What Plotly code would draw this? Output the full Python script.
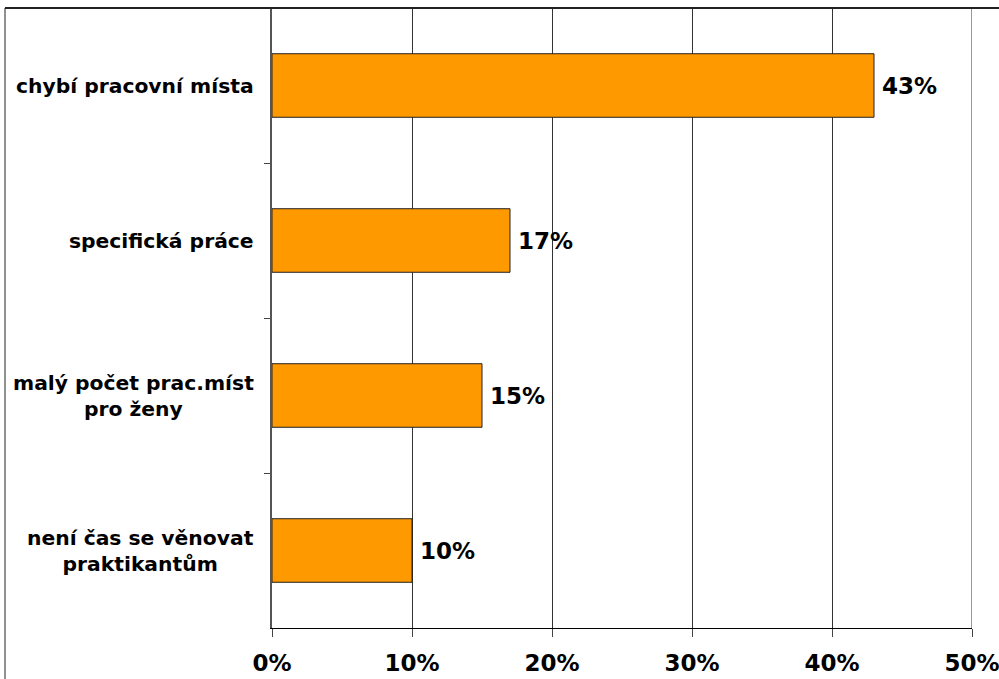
import plotly.graph_objects as go

categories = [
    "chybí pracovní místa",
    "specifická práce",
    "malý počet prac.míst<br>pro ženy",
    "není čas se věnovat<br>praktikantům",
]
values = [43, 17, 15, 10]
tick_vals = [0, 10, 20, 30, 40, 50]
tick_text = ["0%", "10%", "20%", "30%", "40%", "50%"]

FONT = "DejaVu Sans"

W, H = 999, 679
L, R, T, B = 272, 27, 8, 51
pw = W - L - R
ph = H - T - B

fig = go.Figure(
    go.Bar(
        y=categories,
        x=values,
        orientation="h",
        width=0.41,
        marker=dict(color="#FF9900", line=dict(color="#222222", width=1)),
        hoverinfo="skip",
    )
)

annotations = []
for c, v in zip(categories, values):
    annotations.append(dict(
        x=v, y=c, xref="x", yref="y", text=f"{v}%", showarrow=False,
        xanchor="left", yanchor="middle", xshift=6,
        font=dict(family=FONT, size=23, color="black", weight="bold"),
    ))
    annotations.append(dict(
        x=-16 / pw, y=c, xref="paper", yref="y", text=c, showarrow=False,
        xanchor="right", yanchor="middle", align="center",
        font=dict(family=FONT, size=20.3, color="black", weight="bold"),
    ))

fig.update_layout(
    width=W,
    height=H,
    margin=dict(l=L, r=R, t=T, b=B, pad=0, autoexpand=False),
    paper_bgcolor="white",
    plot_bgcolor="white",
    showlegend=False,
    font=dict(family=FONT, color="black"),
    xaxis=dict(
        range=[0, 50],
        tickvals=tick_vals,
        ticktext=tick_text,
        tickfont=dict(family=FONT, size=23, color="black", weight="bold"),
        ticklabeloverflow="allow",
        automargin=False,
        showgrid=True,
        gridcolor="#333333",
        gridwidth=1,
        showline=True,
        linecolor="black",
        linewidth=1,
        ticks="outside",
        ticklen=8,
        tickcolor="#444444",
        ticklabelstandoff=6,
        zeroline=False,
        fixedrange=True,
    ),
    yaxis=dict(
        autorange="reversed",
        automargin=False,
        tickson="boundaries",
        ticks="outside",
        ticklen=6,
        tickcolor="#444444",
        showline=True,
        linecolor="#555555",
        linewidth=2,
        showgrid=False,
        showticklabels=False,
        fixedrange=True,
    ),
    annotations=annotations,
    shapes=[
        dict(type="line", xref="x", yref="paper",
             x0=tick_vals[-1], x1=tick_vals[-1], y0=0, y1=1,
             line=dict(color="#333333", width=1)),
        dict(type="line", xref="paper", yref="paper",
             x0=(5 - L) / pw, x1=(W + 10 - L) / pw, y0=1, y1=1,
             line=dict(color="#222222", width=2)),
        dict(type="line", xref="paper", yref="paper",
             x0=(5 - L) / pw, x1=(5 - L) / pw, y0=1, y1=-(B + 10) / ph,
             line=dict(color="#222222", width=1)),
    ],
)

fig.write_html(
    "out.html",
    config={"displayModeBar": False},
    post_script="document.body.style.margin='0';document.body.style.overflow='hidden';",
)
